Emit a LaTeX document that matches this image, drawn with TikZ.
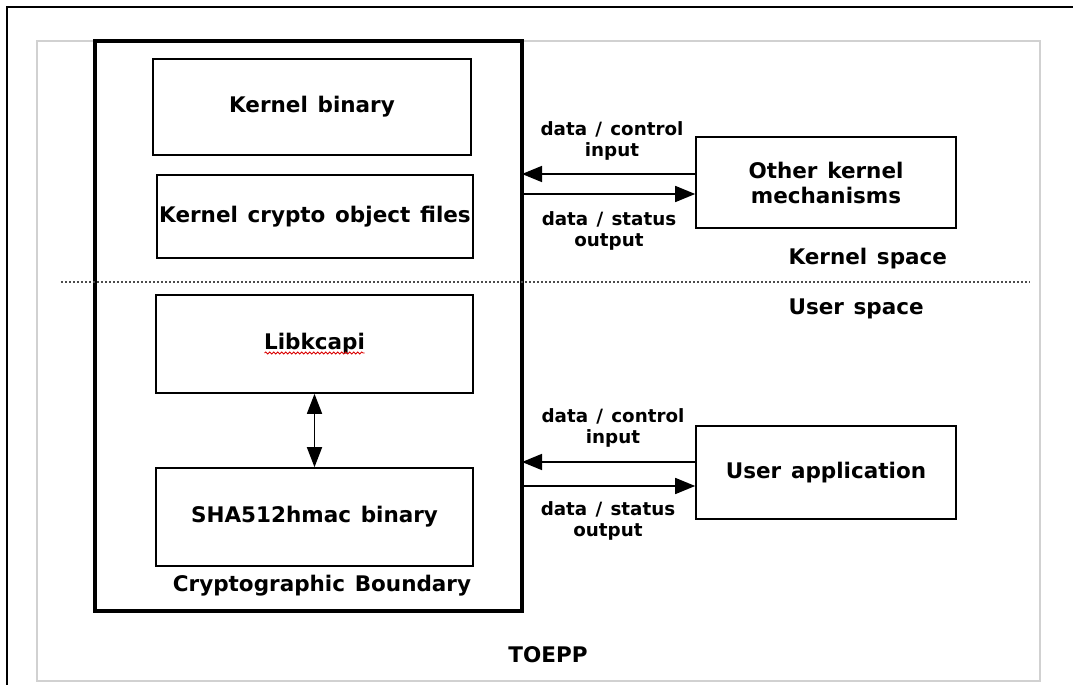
\documentclass[tikz,border=0pt]{standalone}
\usepackage{fontspec}
\setmainfont{DejaVu Sans}[WordSpace=1.3]
\usetikzlibrary{arrows.meta,decorations.pathmorphing}
\begin{document}
\begin{tikzpicture}[x=1pt,y=-1pt,
  box/.style={draw,line width=1.6pt,inner sep=0pt,font=\fontsize{21.5}{25}\selectfont\bfseries,align=center},
  lbl/.style={font=\fontsize{18.3}{21}\selectfont\bfseries,align=center},
  big/.style={font=\fontsize{21.5}{25}\selectfont\bfseries},
  arr/.style={line width=1.6pt,-{Triangle[length=20pt,width=16pt]}},
  both/.style={line width=1.6pt,{Triangle[length=20pt,width=15pt]}-{Triangle[length=20pt,width=15pt]}}]
\useasboundingbox (0,0) rectangle (1073,685);
\draw[line width=2pt] (7,685) -- (7,7) -- (1073,7);
\draw[line width=1.5pt,black!18] (37,41) rectangle (1040,681);

\node[draw,line width=4.5pt,outer sep=0pt,minimum width=427pt,minimum height=570pt] (boundary) at (308.5,326) {};

\node[box,minimum width=318pt,minimum height=96pt] (kbin) at (312,107) {Kernel binary};
\node[box,minimum width=316pt,minimum height=83pt] (kcrypto) at (315,216.5) {Kernel crypto object files};
\node[box,minimum width=317pt,minimum height=98pt] (libk) at (314.5,344) {Libkcapi};
\node[box,minimum width=317pt,minimum height=98pt] (sha) at (314.5,517) {SHA512hmac binary};
\node[box,minimum width=260pt,minimum height=91pt] (other) at (826,182.5) {Other kernel\\mechanisms};
\node[box,minimum width=260pt,minimum height=93pt] (userapp) at (826,472.5) {User application};

\draw[red!85!black,line width=0.8pt,decorate,decoration={snake,segment length=4pt,amplitude=1pt}]
  ([xshift=-50pt,yshift=-9pt]libk.center) -- ([xshift=50pt,yshift=-9pt]libk.center);

\draw[both] (libk.south) -- (sha.north);

\draw[arr] ([yshift=8.5pt]other.west) -- ([yshift=8.5pt]other.west -| boundary.east);
\draw[arr] ([yshift=-11.5pt]other.west -| boundary.east) -- ([yshift=-11.5pt]other.west);
\draw[arr] ([yshift=10.5pt]userapp.west) -- ([yshift=10.5pt]userapp.west -| boundary.east);
\draw[arr] ([yshift=-13.5pt]userapp.west -| boundary.east) -- ([yshift=-13.5pt]userapp.west);

\node[lbl] (kin) at (612,141) {data / control\\input};
\node[lbl] (kout) at (609,231) {data / status\\output};
\node[lbl] (uin) at (613,428) {data / control\\input};
\node[lbl] (uout) at (608,521) {data / status\\output};

\draw[line width=1.5pt,dash pattern=on 2pt off 2pt,black!70] (61,282) -- (1030,282);

\node[big,anchor=west] (kspace) at (785,259) {Kernel space};
\node[big,anchor=west] (uspace) at (785,309) {User space};
\node[big] (cb) at (322,586) {Cryptographic Boundary};
\node[big] (toepp) at (548,655) {TOEPP};
\end{tikzpicture}
\end{document}
